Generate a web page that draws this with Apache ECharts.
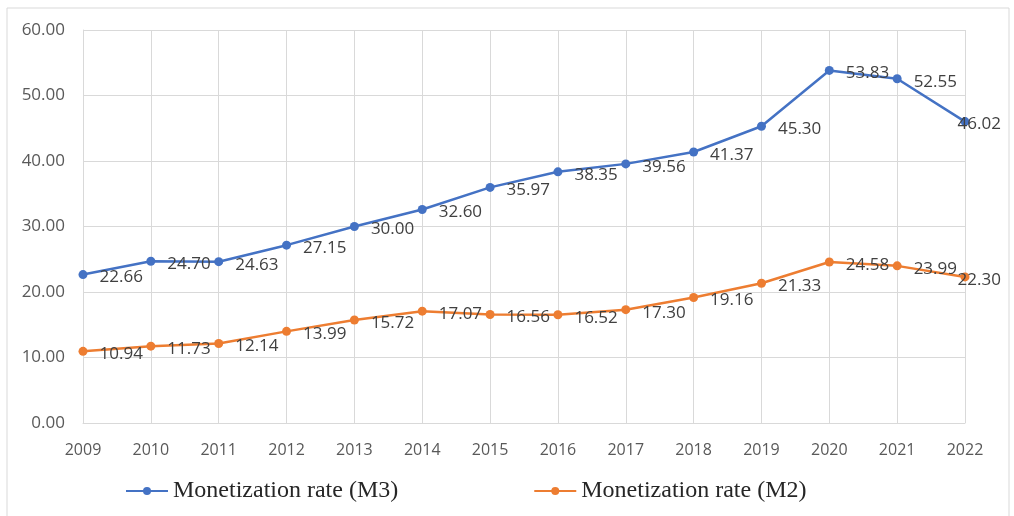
<!DOCTYPE html>
<html>
<head>
<meta charset="utf-8">
<script src="https://cdn.jsdelivr.net/npm/echarts@6/dist/echarts.min.js"></script>
<style>
  html, body { margin: 0; padding: 0; background: #fff; }
  #chart { width: 1014px; height: 516px; }
</style>
</head>
<body>
<div id="chart"></div>
<script>
const years = ['2009', '2010', '2011', '2012', '2013', '2014', '2015', '2016', '2017', '2018', '2019', '2020', '2021', '2022'];
const m3Rate = [22.66, 24.70, 24.63, 27.15, 30.00, 32.60, 35.97, 38.35, 39.56, 41.37, 45.30, 53.83, 52.55, 46.02];
const m2Rate = [10.94, 11.73, 12.14, 13.99, 15.72, 17.07, 16.56, 16.52, 17.30, 19.16, 21.33, 24.58, 23.99, 22.30];

function lineSeries(name, data, color) {
  // last label is pulled back over its point so it stays inside the frame
  const items = data.map((v, i) => i === data.length - 1
    ? { value: v, label: { distance: -12 } }
    : v);
  return {
    name: name,
    type: 'line',
    data: items,
    symbol: 'circle',
    symbolSize: 9,
    lineStyle: { width: 2.5, color: color },
    itemStyle: { color: color },
    label: {
      show: true,
      position: 'right',
      distance: 12,
      offset: [0, 3],
      color: '#404040',
      fontSize: 17,
      fontFamily: 'Open Sans',
      formatter: p => p.value.toFixed(2)
    },
    emphasis: { disabled: true }
  };
}

var option = {
  animation: false,
  graphic: [{
    type: 'rect',
    shape: { x: 7, y: 8, width: 1002, height: 520 },
    style: { fill: 'none', stroke: '#d9d9d9', lineWidth: 1 },
    silent: true
  }],
  grid: { left: 83, right: 49, top: 30, bottom: 93 },
  legend: {
    bottom: 8,
    left: 120,
    itemGap: 135,
    itemWidth: 42,
    itemHeight: 10,
    textStyle: { fontFamily: 'Liberation Serif', fontSize: 24, color: '#262626' },
    data: ['Monetization rate (M3)', 'Monetization rate (M2)']
  },
  xAxis: {
    type: 'category',
    boundaryGap: false,
    data: years,
    axisLine: { lineStyle: { color: '#d9d9d9', width: 1 } },
    axisTick: { show: false },
    axisLabel: { margin: 19, color: '#595959', fontSize: 16, fontFamily: 'Open Sans' },
    splitLine: { show: true, lineStyle: { color: '#d9d9d9', width: 1 } }
  },
  yAxis: {
    type: 'value',
    min: 0,
    max: 60,
    interval: 10,
    axisLine: { show: true, lineStyle: { color: '#d9d9d9' } },
    axisTick: { show: false },
    axisLabel: { margin: 18, color: '#595959', fontSize: 17, fontFamily: 'Open Sans', formatter: v => v.toFixed(2) },
    splitLine: { lineStyle: { color: '#d9d9d9', width: 1 } }
  },
  series: [
    lineSeries('Monetization rate (M3)', m3Rate, '#4472C4'),
    lineSeries('Monetization rate (M2)', m2Rate, '#ED7D31')
  ]
};

var chart = echarts.init(document.getElementById('chart'));
chart.setOption(option);
</script>
</body>
</html>
